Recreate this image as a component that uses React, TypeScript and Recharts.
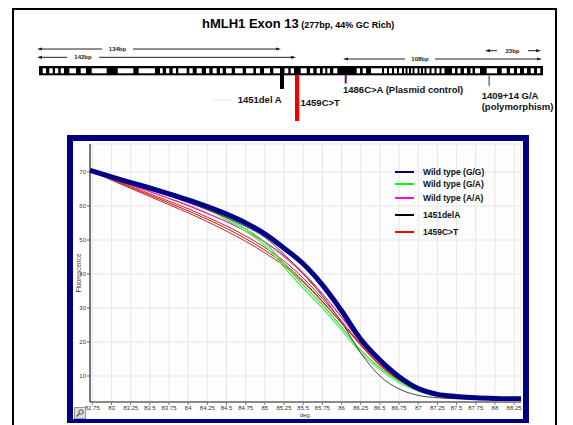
import React from "react";
import { CartesianGrid, Legend, Line, LineChart, XAxis, YAxis } from "recharts";

const temps = [82.72, 83, 83.25, 83.5, 83.75, 84, 84.25, 84.5, 84.75, 85, 85.25, 85.5, 85.75, 86, 86.25, 86.5, 86.75, 87, 87.25, 87.5, 87.75, 88, 88.34];

const wildGG = [70.5, 68.6, 66.9, 65.3, 63.6, 61.8, 59.8, 57.6, 55.0, 51.8, 47.6, 43.0, 36.8, 29.2, 20.8, 14.7, 9.8, 6.3, 4.6, 4.0, 3.6, 3.4, 3.3];
const wildGA1 = [70.5, 68.6, 66.9, 65.2, 63.4, 61.5, 59.3, 56.5, 53.3, 49.3, 43.0, 36.8, 31.0, 24.4, 17.6, 12.4, 8.5, 5.8, 4.3, 3.7, 3.5, 3.4, 3.3];
const wildGA2 = [70.5, 68.6, 66.9, 65.1, 63.2, 61.2, 58.9, 56.0, 52.6, 48.4, 42.0, 35.8, 30.0, 23.5, 16.8, 11.8, 8.0, 5.5, 4.1, 3.6, 3.4, 3.3, 3.3];
const wildAA = [70.5, 68.3, 66.3, 64.3, 62.3, 60.3, 57.9, 55.4, 52.6, 49.4, 45.0, 40.0, 34.0, 27.2, 20.0, 13.8, 9.2, 6.0, 4.5, 3.9, 3.6, 3.4, 3.3];
const del1451 = [70.5, 68.4, 66.6, 64.8, 63.0, 61.0, 58.9, 56.6, 54.0, 50.8, 45.8, 40.0, 33.5, 25.8, 16.8, 10.0, 6.2, 4.3, 3.6, 3.3, 3.2, 3.2, 3.2];
const c1459a = [70.5, 68.2, 66.2, 64.2, 62.2, 60.1, 57.8, 55.4, 52.6, 49.4, 45.4, 40.4, 34.2, 27.4, 20.4, 14.2, 9.4, 6.2, 4.6, 3.9, 3.6, 3.4, 3.3];
const c1459b = [70.5, 68.0, 65.8, 63.6, 61.4, 59.2, 56.7, 54.1, 51.2, 47.8, 43.8, 38.8, 32.8, 26.2, 19.4, 13.4, 8.9, 5.9, 4.4, 3.8, 3.5, 3.4, 3.3];
const c1459c = [70.5, 67.8, 65.5, 63.2, 60.9, 58.6, 56.1, 53.4, 50.4, 47.0, 43.0, 38.0, 32.0, 25.6, 19.0, 13.1, 8.7, 5.8, 4.3, 3.8, 3.5, 3.4, 3.3];
const c1459d = [70.5, 67.6, 65.2, 62.8, 60.4, 58.0, 55.4, 52.6, 49.6, 46.2, 42.4, 37.6, 31.8, 25.6, 19.2, 13.4, 9.0, 6.0, 4.5, 3.9, 3.6, 3.4, 3.3];

const xTicks = [82.75, 83, 83.25, 83.5, 83.75, 84, 84.25, 84.5, 84.75, 85, 85.25, 85.5, 85.75, 86, 86.25, 86.5, 86.75, 87, 87.25, 87.5, 87.75, 88, 88.25];
const yTicks = [10, 20, 30, 40, 50, 60, 70];

const legendNames = ["Wild type (G/G)", "Wild type (G/A)", "Wild type (A/A)", "1451delA", "1459C>T"];
const legendColors = ["#000080", "#00ff00", "#ff00ff", "#000000", "#ff0000"];

const rows = temps.map((t, i) => ({
  t,
  gg: wildGG[i],
  ga1: wildGA1[i],
  ga2: wildGA2[i],
  aa: wildAA[i],
  del: del1451[i],
  ra: c1459a[i],
  rb: c1459b[i],
  rc: c1459c[i],
  rd: c1459d[i],
}));

// drawing order: reds under, blue band on top
const series = [
  { key: "ra", color: "#dd1111", w: 1 },
  { key: "rb", color: "#cc2222", w: 1 },
  { key: "rc", color: "#dd1111", w: 1 },
  { key: "rd", color: "#cc2222", w: 1 },
  { key: "aa", color: "#ee33ee", w: 1 },
  { key: "ga1", color: "#33dd33", w: 1.2 },
  { key: "ga2", color: "#55ee55", w: 1.2 },
  { key: "del", color: "#444444", w: 1 },
  { key: "gg", color: "#000088", w: 5 },
];

const FONT = '"Liberation Sans", Arial, sans-serif';

// white gaps inside the exon bar (page px)
const barGaps: [number, number][] = [
  [42.7, 46], [49.3, 52.7], [55, 58.3], [60.7, 64], [69.3, 76], [80.7, 86], [91.7, 106.7], [117.7, 133.3],
  [138.7, 155], [160, 162.7], [166, 169.3], [172.7, 176], [178.3, 186.7], [189.3, 192.7], [196.7, 201.7],
  [206, 209.3], [212.7, 216.7], [220, 222.7], [226, 231.7], [235, 242.7], [246, 253.3], [256, 260], [264, 270],
  [273.3, 280], [284.5, 288.3], [290.7, 294], [300.7, 306.7], [310, 313.3], [316.7, 320], [322.7, 325.3],
  [327.3, 330], [333.3, 337.3], [356.7, 360], [362.7, 366], [371, 382], [384, 387], [389, 392], [394, 397],
  [399, 402], [404, 405.5], [407.5, 409], [411, 412.5], [414.5, 417.5], [419.5, 421], [423, 424.5],
  [426.5, 429.5], [431.5, 434.5], [436.5, 439.5], [441.5, 444.5], [452, 455], [457.5, 460.5], [464, 467],
  [470.5, 472.5], [475, 480], [486.7, 497], [501.7, 506.7], [510, 514], [517, 520], [524, 527], [530.7, 534],
  [537, 540.3],
];

function Span({ x1, x2, y, g1, g2, label }: { x1: number; x2: number; y: number; g1: number; g2: number; label: string }) {
  return (
    <g stroke="#222" fill="#222">
      <line x1={x1 + 2} y1={y} x2={g1} y2={y} strokeWidth={1} />
      <line x1={g2} y1={y} x2={x2 - 2} y2={y} strokeWidth={1} />
      <polygon points={`${x1},${y} ${x1 + 5},${y - 1.6} ${x1 + 5},${y + 1.6}`} stroke="none" />
      <polygon points={`${x2},${y} ${x2 - 5},${y - 1.6} ${x2 - 5},${y + 1.6}`} stroke="none" />
      <text x={(g1 + g2) / 2} y={y} stroke="none" fontSize={6} fontWeight="bold" textAnchor="middle" dominantBaseline="central">
        {label}
      </text>
    </g>
  );
}

function GeneMap() {
  return (
    <svg width={573} height={130} style={{ position: "absolute", left: 0, top: 0 }} fontFamily={FONT}>
      <text x={202} y={28} fontWeight="bold">
        <tspan fontSize={13}>hMLH1 Exon 13</tspan>
        <tspan fontSize={9}> (277bp, 44% GC Rich)</tspan>
      </text>
      <Span x1={37} x2={281} y={49} g1={102} g2={133} label="134bp" />
      <Span x1={37} x2={296} y={57.3} g1={67} g2={99} label="142bp" />
      <Span x1={343} x2={542} y={59} g1={405} g2={435} label="108bp" />
      <Span x1={485} x2={541} y={50.7} g1={497} g2={528} label="23bp" />
      <rect x={39} y={66} width={504} height={9.3} fill="#000" />
      {barGaps.map(([a, b]) => (
        <rect key={a} x={a} y={68.3} width={b - a} height={5} fill="#fff" />
      ))}
      <rect x={280} y={75} width={4} height={14} fill="#000" />
      <rect x={295} y={75} width={4.3} height={46} fill="#ee0000" />
      <rect x={344.7} y={75} width={2} height={8.5} fill="#800080" />
      <rect x={488.3} y={75} width={1.7} height={11} fill="#888" />
      <line x1={213} y1={100} x2={232} y2={100} stroke="#ddd" strokeDasharray="2 1" />
      <g fontSize={9.5} fontWeight="bold" fill="#111">
        <text x={237.7} y={102.7}>1451del A</text>
        <text x={300.5} y={106}>1459C&gt;T</text>
        <text x={343} y={92.7}>1486C&gt;A (Plasmid control)</text>
        <text x={481.7} y={99.3}>1409+14 G/A</text>
        <text x={481.7} y={110}>(polymorphism)</text>
      </g>
    </svg>
  );
}

function LegendBox() {
  const ys = [6, 18, 32, 49, 66];
  return (
    <svg width={130} height={76} fontFamily={FONT} style={{ display: "block" }}>
      {legendNames.map((n, i) => (
        <g key={n}>
          <line x1={0} y1={ys[i]} x2={19} y2={ys[i]} stroke={legendColors[i]} strokeWidth={2} />
          <text x={28} y={ys[i]} fontSize={8.5} fontWeight="bold" dominantBaseline="central" fill="#111">
            {n}
          </text>
        </g>
      ))}
    </svg>
  );
}

function YLabel({ viewBox }: any) {
  const cy = viewBox.y + viewBox.height / 2;
  return (
    <text x={5.5} y={cy} transform={`rotate(-90 5.5 ${cy})`} textAnchor="middle" dominantBaseline="central" fontSize={6.5} fill="#333" fontFamily={FONT}>
      Fluorescence
    </text>
  );
}

function XLabel({ viewBox }: any) {
  return (
    <text x={viewBox.x + viewBox.width / 2} y={276} textAnchor="middle" fontSize={6} fill="#333" fontFamily={FONT}>
      deg.
    </text>
  );
}

export default function App() {
  return (
    <div style={{ position: "absolute", left: 0, top: 0, width: 573, height: 425, overflow: "hidden", background: "#fff", fontFamily: FONT }}>
      <div style={{ position: "absolute", left: 12, top: 8, width: 541, height: 440, border: "2px solid #000" }} />
      <GeneMap />
      <div style={{ position: "absolute", left: 67, top: 135, width: 462, height: 288, background: "#000080" }}>
        <div style={{ position: "absolute", left: 6, top: 6, width: 450, height: 278, background: "#fff" }}>
          <LineChart width={450} height={278} data={rows} margin={{ top: 3, right: 2, bottom: 0, left: 0 }}>
            <CartesianGrid stroke="#e6e6e6" fill="#fdfdfd" />
            <XAxis
              type="number"
              dataKey="t"
              domain={[82.72, 88.34]}
              ticks={xTicks}
              allowDataOverflow
              height={17}
              tickSize={3}
              tickMargin={1}
              interval={0}
              axisLine={{ stroke: "#8a8a8a", strokeWidth: 2 }}
              tickLine={{ stroke: "#777" }}
              tick={{ fontSize: 6, fill: "#333", fontFamily: FONT }}
              label={<XLabel />}
            />
            <YAxis
              type="number"
              domain={[2.35, 78.24]}
              ticks={yTicks}
              allowDataOverflow
              width={17}
              tickSize={3}
              tickMargin={1}
              axisLine={{ stroke: "#000" }}
              tickLine={{ stroke: "#555" }}
              tick={{ fontSize: 6, fill: "#333", fontFamily: FONT }}
              label={<YLabel />}
            />
            {series.map((s) => (
              <Line
                key={s.key}
                type="monotone"
                dataKey={s.key}
                stroke={s.color}
                strokeWidth={s.w}
                dot={false}
                activeDot={false}
                isAnimationActive={false}
              />
            ))}
            <Legend
              layout="vertical"
              align="center"
              verticalAlign="middle"
              content={() => <LegendBox />}
              wrapperStyle={{ position: "absolute", left: 322, top: 25, width: 130, height: 76 }}
            />
          </LineChart>
          <div style={{ position: "absolute", left: 1, top: 266, width: 10, height: 10, border: "1px solid #999", background: "#ddd" }}>
            <svg width={10} height={10} style={{ display: "block" }}>
              <circle cx={6} cy={4} r={2.2} fill="none" stroke="#555" strokeWidth={1} />
              <line x1={4.5} y1={5.5} x2={1.5} y2={8.5} stroke="#555" strokeWidth={1.2} />
            </svg>
          </div>
        </div>
      </div>
    </div>
  );
}
